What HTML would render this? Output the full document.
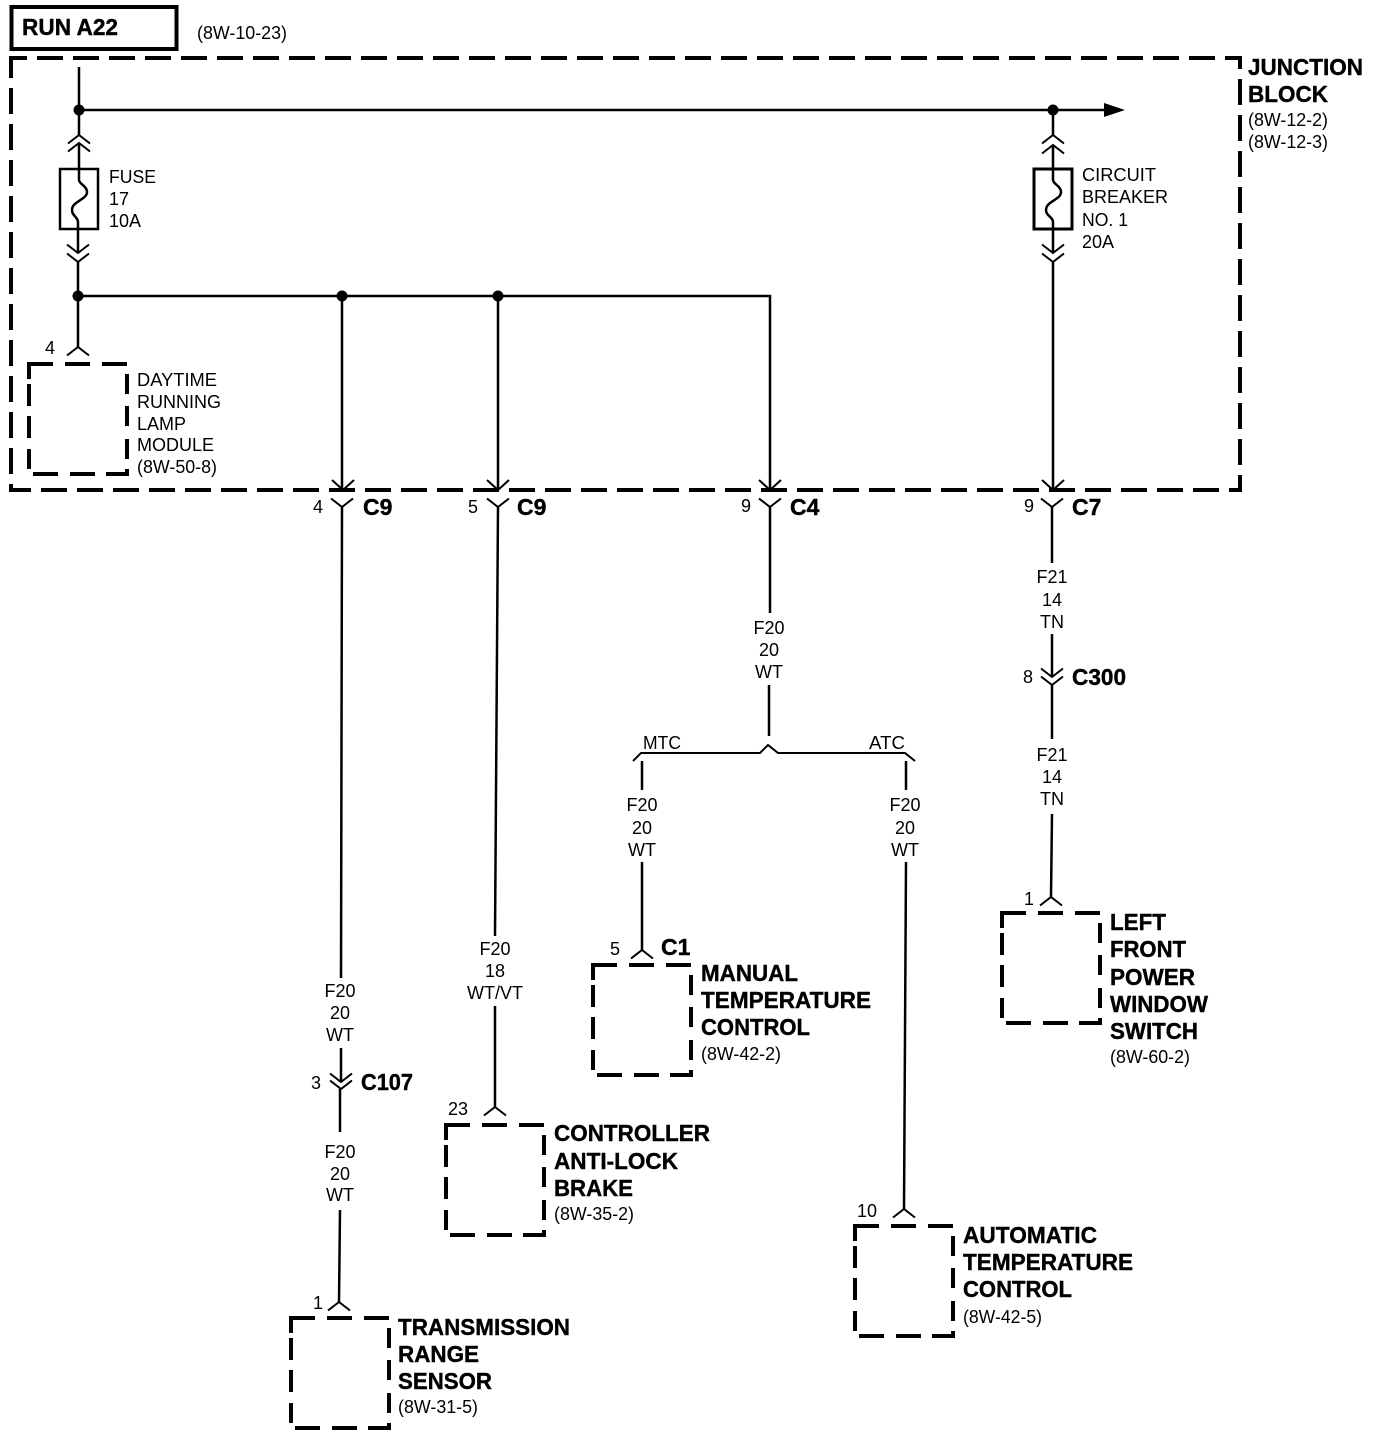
<!DOCTYPE html>
<html><head><meta charset="utf-8"><style>
html,body{margin:0;padding:0;background:#fff}
svg{display:block}
text{font-family:"Liberation Sans",sans-serif;fill:#000}
.s{font-size:18px}
.b{font-size:23px;font-weight:bold;stroke:#000;stroke-width:.4px}
.m{text-anchor:middle}
.w{fill:none;stroke:#000;stroke-width:2.5}
.t{fill:none;stroke:#000;stroke-width:2}
.d{fill:none;stroke:#000;stroke-width:4}
</style></head><body>
<svg width="1376" height="1436" viewBox="0 0 1376 1436" xmlns="http://www.w3.org/2000/svg">
<defs>
<g id="box" class="d">
<path d="M0 15V0H24M36 0H61M73 0H98M98 10V30M98 42V62M98 75V95M98 105V110H77M66 110H41M29 110H4M0 105V85M0 74V52M0 42V20"/>
</g>
<path id="up" class="t" d="M-11 8.5L0 0L11 8.5"/>
<path id="dn" class="t" d="M-11 -8.5L0 0L11 -8.5"/>
<path id="ar" class="t" d="M-11 -10L0 0L11 -10"/>
</defs>

<!-- Title -->
<rect x="11.5" y="7" width="165" height="42" fill="none" stroke="#000" stroke-width="4"/>
<text x="22" y="35" class="b" textLength="96" lengthAdjust="spacingAndGlyphs">RUN A22</text>
<text x="197" y="39" class="s" textLength="90" lengthAdjust="spacingAndGlyphs">(8W-10-23)</text>

<!-- Junction block -->
<path class="d" stroke-dasharray="26 10" d="M11 68V58H1240V490H11V68"/>
<text x="1248" y="75" class="b" textLength="115" lengthAdjust="spacingAndGlyphs">JUNCTION</text>
<text x="1248" y="102" class="b" textLength="80" lengthAdjust="spacingAndGlyphs">BLOCK</text>
<text x="1248" y="126" class="s" textLength="80" lengthAdjust="spacingAndGlyphs">(8W-12-2)</text>
<text x="1248" y="148" class="s" textLength="80" lengthAdjust="spacingAndGlyphs">(8W-12-3)</text>

<!-- Top bus -->
<path class="w" d="M79 67V135M79 110H1106M1053 110V135"/>
<path d="M1104 103L1125 110L1104 117Z"/>
<circle cx="79" cy="110" r="5.5"/><circle cx="1053" cy="110" r="5.5"/>

<!-- Fuse -->
<use href="#up" x="79" y="135"/><use href="#up" x="79" y="143"/>
<rect x="60" y="169" width="38" height="60" fill="none" stroke="#000" stroke-width="2.5"/>
<path class="w" d="M79 143V180C79 184 87 186 87 192C87 200 72 201 72 210C72 216 78 217 78 222V253"/>
<use href="#dn" x="78" y="253"/><use href="#dn" x="78" y="262"/>
<path class="w" d="M78 262V347"/>
<text x="109" y="183" class="s" textLength="47" lengthAdjust="spacingAndGlyphs">FUSE</text>
<text x="109" y="205" class="s">17</text>
<text x="109" y="227" class="s">10A</text>

<!-- Breaker -->
<use href="#up" x="1053" y="135"/><use href="#up" x="1053" y="145"/>
<rect x="1034" y="169" width="38" height="60" fill="none" stroke="#000" stroke-width="3"/>
<path class="w" d="M1053 145V180C1053 184 1061 186 1061 192C1061 200 1046 201 1046 210C1046 216 1053 217 1053 222V253M1053 262V488"/>
<use href="#dn" x="1053" y="253"/><use href="#dn" x="1053" y="262"/>
<text x="1082" y="181" class="s" textLength="74" lengthAdjust="spacingAndGlyphs">CIRCUIT</text>
<text x="1082" y="203" class="s" textLength="86" lengthAdjust="spacingAndGlyphs">BREAKER</text>
<text x="1082" y="226" class="s" textLength="46" lengthAdjust="spacingAndGlyphs">NO. 1</text>
<text x="1082" y="248" class="s">20A</text>

<!-- Lower bus -->
<path class="w" d="M78 296H770V490M342 296V490M498 296V490"/>
<circle cx="78" cy="296" r="5.5"/><circle cx="342" cy="296" r="5.5"/><circle cx="498" cy="296" r="5.5"/>

<!-- Daytime lamp module -->
<use href="#up" x="78" y="347"/>
<text x="45" y="354" class="s">4</text>
<use href="#box" x="29" y="364"/>
<text x="137" y="386" class="s" textLength="80" lengthAdjust="spacingAndGlyphs">DAYTIME</text>
<text x="137" y="408" class="s" textLength="84" lengthAdjust="spacingAndGlyphs">RUNNING</text>
<text x="137" y="430" class="s" textLength="49" lengthAdjust="spacingAndGlyphs">LAMP</text>
<text x="137" y="451" class="s" textLength="77" lengthAdjust="spacingAndGlyphs">MODULE</text>
<text x="137" y="473" class="s" textLength="80" lengthAdjust="spacingAndGlyphs">(8W-50-8)</text>

<!-- Junction output connectors -->
<use href="#ar" x="343" y="490"/><use href="#ar" x="498" y="490"/><use href="#ar" x="770" y="490"/><use href="#ar" x="1053" y="490"/>
<use href="#dn" x="342" y="507"/><use href="#dn" x="498" y="507"/><use href="#dn" x="770" y="507"/><use href="#dn" x="1052" y="507"/>
<text x="313" y="513" class="s">4</text><text x="363" y="515" class="b">C9</text>
<text x="468" y="513" class="s">5</text><text x="517" y="515" class="b">C9</text>
<text x="741" y="512" class="s">9</text><text x="790" y="515" class="b">C4</text>
<text x="1024" y="512" class="s">9</text><text x="1072" y="515" class="b">C7</text>

<!-- Wire 1 -->
<path class="w" d="M342 507L341 978M341 1048V1082M340 1089V1132M340 1210L339 1302"/>
<text x="340" y="997" class="s m">F20</text><text x="340" y="1019" class="s m">20</text><text x="340" y="1041" class="s m">WT</text>
<use href="#dn" x="341" y="1082"/><use href="#dn" x="341" y="1089"/>
<text x="311" y="1089" class="s">3</text>
<text x="361" y="1090" class="b" textLength="52" lengthAdjust="spacingAndGlyphs">C107</text>
<text x="340" y="1158" class="s m">F20</text><text x="340" y="1180" class="s m">20</text><text x="340" y="1201" class="s m">WT</text>
<use href="#up" x="339" y="1302"/>
<text x="313" y="1309" class="s">1</text>
<use href="#box" x="291" y="1318"/>
<text x="398" y="1335" class="b" textLength="172" lengthAdjust="spacingAndGlyphs">TRANSMISSION</text>
<text x="398" y="1362" class="b" textLength="81" lengthAdjust="spacingAndGlyphs">RANGE</text>
<text x="398" y="1389" class="b" textLength="94" lengthAdjust="spacingAndGlyphs">SENSOR</text>
<text x="398" y="1413" class="s" textLength="80" lengthAdjust="spacingAndGlyphs">(8W-31-5)</text>

<!-- Wire 2 -->
<path class="w" d="M498 507L495 936M495 1006V1107"/>
<text x="495" y="955" class="s m">F20</text><text x="495" y="977" class="s m">18</text><text x="495" y="999" class="s m">WT/VT</text>
<use href="#up" x="495" y="1107"/>
<text x="448" y="1115" class="s">23</text>
<use href="#box" x="446" y="1125"/>
<text x="554" y="1141" class="b" textLength="156" lengthAdjust="spacingAndGlyphs">CONTROLLER</text>
<text x="554" y="1169" class="b" textLength="124" lengthAdjust="spacingAndGlyphs">ANTI-LOCK</text>
<text x="554" y="1196" class="b" textLength="79" lengthAdjust="spacingAndGlyphs">BRAKE</text>
<text x="554" y="1220" class="s" textLength="80" lengthAdjust="spacingAndGlyphs">(8W-35-2)</text>

<!-- Wire 3 -->
<path class="w" d="M770 507V613M769 685V736"/>
<text x="769" y="634" class="s m">F20</text><text x="769" y="656" class="s m">20</text><text x="769" y="678" class="s m">WT</text>
<path class="t" d="M633 761L641 753H760L768 745L778 753H905L915 761"/>
<text x="643" y="749" class="s" textLength="38" lengthAdjust="spacingAndGlyphs">MTC</text>
<text x="869" y="749" class="s" textLength="36" lengthAdjust="spacingAndGlyphs">ATC</text>
<path class="w" d="M642 761V790M642 862V950M906 761V790M906 862L904 1209"/>
<text x="642" y="811" class="s m">F20</text><text x="642" y="834" class="s m">20</text><text x="642" y="856" class="s m">WT</text>
<text x="905" y="811" class="s m">F20</text><text x="905" y="834" class="s m">20</text><text x="905" y="856" class="s m">WT</text>
<use href="#up" x="642" y="950"/>
<text x="610" y="955" class="s">5</text>
<text x="661" y="955" class="b">C1</text>
<use href="#box" x="593" y="965"/>
<text x="701" y="981" class="b" textLength="97" lengthAdjust="spacingAndGlyphs">MANUAL</text>
<text x="701" y="1008" class="b" textLength="170" lengthAdjust="spacingAndGlyphs">TEMPERATURE</text>
<text x="701" y="1035" class="b" textLength="109" lengthAdjust="spacingAndGlyphs">CONTROL</text>
<text x="701" y="1060" class="s" textLength="80" lengthAdjust="spacingAndGlyphs">(8W-42-2)</text>
<use href="#up" x="904" y="1209"/>
<text x="857" y="1217" class="s">10</text>
<use href="#box" x="855" y="1226"/>
<text x="963" y="1243" class="b" textLength="134" lengthAdjust="spacingAndGlyphs">AUTOMATIC</text>
<text x="963" y="1270" class="b" textLength="170" lengthAdjust="spacingAndGlyphs">TEMPERATURE</text>
<text x="963" y="1297" class="b" textLength="109" lengthAdjust="spacingAndGlyphs">CONTROL</text>
<text x="963" y="1323" class="s" textLength="79" lengthAdjust="spacingAndGlyphs">(8W-42-5)</text>

<!-- Wire 4 -->
<path class="w" d="M1052 507V563M1052 634V677M1052 685V739M1052 814L1051 897"/>
<text x="1052" y="583" class="s m">F21</text><text x="1052" y="606" class="s m">14</text><text x="1052" y="628" class="s m">TN</text>
<use href="#dn" x="1052" y="677"/><use href="#dn" x="1052" y="685"/>
<text x="1023" y="683" class="s">8</text>
<text x="1072" y="685" class="b" textLength="54" lengthAdjust="spacingAndGlyphs">C300</text>
<text x="1052" y="761" class="s m">F21</text><text x="1052" y="783" class="s m">14</text><text x="1052" y="805" class="s m">TN</text>
<use href="#up" x="1051" y="897"/>
<text x="1024" y="905" class="s">1</text>
<use href="#box" x="1002" y="913"/>
<text x="1110" y="930" class="b" textLength="56" lengthAdjust="spacingAndGlyphs">LEFT</text>
<text x="1110" y="957" class="b" textLength="76" lengthAdjust="spacingAndGlyphs">FRONT</text>
<text x="1110" y="985" class="b" textLength="85" lengthAdjust="spacingAndGlyphs">POWER</text>
<text x="1110" y="1012" class="b" textLength="98" lengthAdjust="spacingAndGlyphs">WINDOW</text>
<text x="1110" y="1039" class="b" textLength="88" lengthAdjust="spacingAndGlyphs">SWITCH</text>
<text x="1110" y="1063" class="s" textLength="80" lengthAdjust="spacingAndGlyphs">(8W-60-2)</text>
</svg>
</body></html>
